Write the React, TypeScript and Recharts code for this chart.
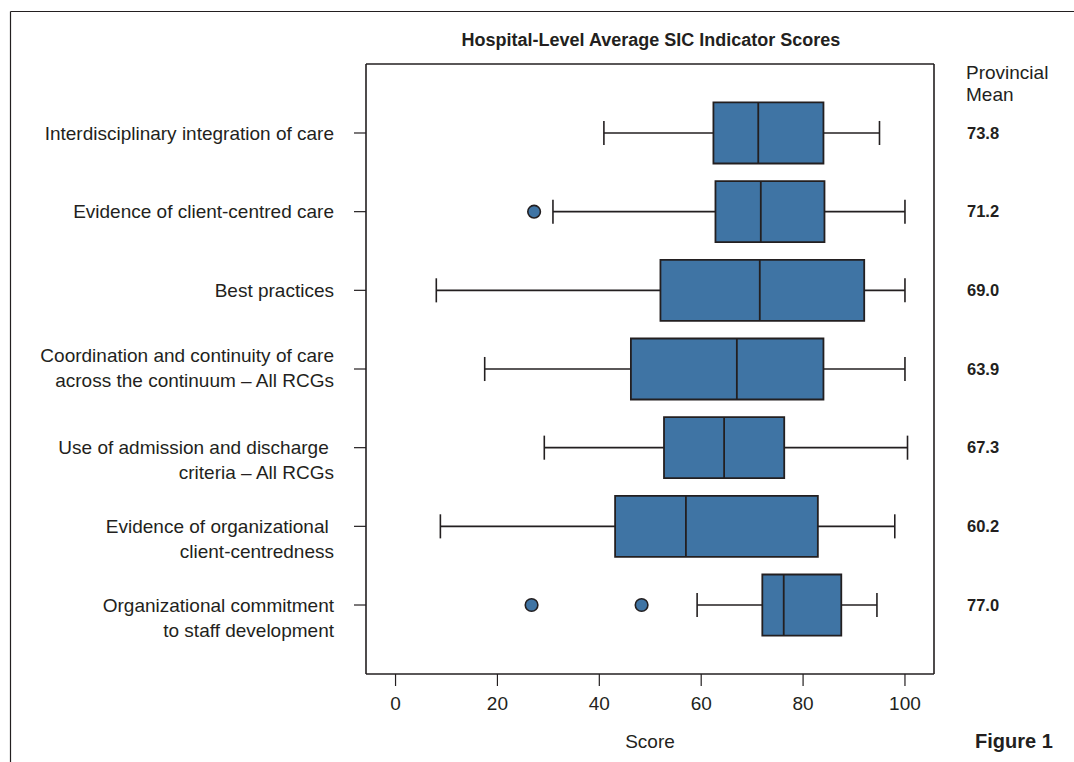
import React from "react";
import {
  ComposedChart,
  XAxis,
  YAxis,
  Scatter,
  ReferenceArea,
  ReferenceLine,
  Customized,
} from "recharts";

// Indicator names (one entry per line of the axis label)
const indicators: string[][] = [
  ["Interdisciplinary integration of care"],
  ["Evidence of client-centred care"],
  ["Best practices"],
  ["Coordination and continuity of care", "across the continuum – All RCGs"],
  ["Use of admission and discharge ", "criteria – All RCGs"],
  ["Evidence of organizational ", "client-centredness"],
  ["Organizational commitment", "to staff development"],
];

// Five-number summaries of hospital-level scores, per indicator
const whiskerLow = [40.9, 30.9, 8.0, 17.5, 29.2, 8.8, 59.2];
const quartile1 = [62.4, 62.8, 52.0, 46.2, 52.7, 43.1, 72.0];
const medians = [71.2, 71.7, 71.5, 67.0, 64.5, 57.0, 76.2];
const quartile3 = [84.0, 84.2, 92.0, 84.0, 76.3, 82.9, 87.5];
const whiskerHigh = [95.0, 100.0, 100.0, 100.0, 100.5, 98.0, 94.5];

// Outlying hospitals: indicator row (1-based) and score
const outlierRows = [2, 7, 7];
const outlierScores = [27.2, 26.7, 48.3];

// Provincial mean per indicator
const provincialMeans = [73.8, 71.2, 69.0, 63.9, 67.3, 60.2, 77.0];

const scoreTicks = [0, 20, 40, 60, 80, 100];

const rows = indicators.map((_, i) => i + 1);
const outliers = outlierRows.map((row, i) => ({ row, score: outlierScores[i] }));

const INK = "#231f20";
const BOX_FILL = "#3f74a4";
const FONT = "'Liberation Sans', Arial, Helvetica, sans-serif";

const BOX_HALF = 0.388;
const CAP_HALF = 0.153;
const X_DOMAIN: [number, number] = [-5.8, 105.7];
const Y_DOMAIN: [number, number] = [0.123, 7.877];

// rows whose two-line label is centred on the tick rather than hung from it
const centredLabelRows = new Set([4]);

const IndicatorTick = (props: any) => {
  const { x, y, payload } = props;
  const row = payload.value as number;
  const lines = indicators[row - 1] || [];
  const lineGap = 25;
  const firstY = centredLabelRows.has(row) ? y - 14 : y;
  return (
    <text x={x} y={firstY} textAnchor="end" fontFamily={FONT} fontSize={19} fill={INK}>
      {lines.map((line, i) => (
        <tspan key={i} x={x} y={firstY + i * lineGap} dy="0.35em">
          {line}
        </tspan>
      ))}
    </text>
  );
};

const MeanTick = (props: any) => {
  const { x, y, payload } = props;
  const row = payload.value as number;
  const v = provincialMeans[row - 1];
  return (
    <text
      x={x}
      y={y}
      dy="0.35em"
      textAnchor="start"
      fontFamily={FONT}
      fontWeight="bold"
      fontSize={16.5}
      fill={INK}
    >
      {v.toFixed(1)}
    </text>
  );
};

const OutlierDot = (props: any) => {
  const { cx, cy } = props;
  return <circle cx={cx} cy={cy} r={6.3} fill={BOX_FILL} stroke={INK} strokeWidth={1.6} />;
};

const Decorations = () => (
  <g>
    <line x1={10.5} y1={11.5} x2={1074} y2={11.5} stroke={INK} strokeWidth={1.2} />
    <line x1={10.5} y1={11.5} x2={10.5} y2={762} stroke={INK} strokeWidth={1.2} />
    <text
      x={651}
      y={46}
      textAnchor="middle"
      fontFamily={FONT}
      fontWeight="bold"
      fontSize={18}
      fill={INK}
    >
      Hospital-Level Average SIC Indicator Scores
    </text>
    <text x={966} y={79} fontFamily={FONT} fontSize={19} fill={INK}>
      Provincial
    </text>
    <text x={966} y={101} fontFamily={FONT} fontSize={19} fill={INK}>
      Mean
    </text>
    <text x={650} y={748} textAnchor="middle" fontFamily={FONT} fontSize={19} fill={INK}>
      Score
    </text>
    <text x={975} y={748} fontFamily={FONT} fontWeight="bold" fontSize={20} fill={INK}>
      Figure 1
    </text>
  </g>
);

export default function App() {
  return (
    <div style={{ position: "absolute", left: 0, top: 0, width: 1074, height: 762, background: "#fff" }}>
      <ComposedChart
        width={1074}
        height={762}
        margin={{ top: 64, right: 0, bottom: 0, left: 0 }}
      >
        <XAxis
          type="number"
          dataKey="score"
          domain={X_DOMAIN}
          ticks={scoreTicks}
          allowDataOverflow
          height={88}
          tickSize={12}
          tickMargin={11}
          stroke={INK}
          axisLine={{ stroke: INK, strokeWidth: 1.6 }}
          tickLine={{ stroke: INK, strokeWidth: 1.2 }}
          tick={{ fontFamily: FONT, fontSize: 19, fill: INK }}
        />
        <YAxis
          yAxisId="rows"
          type="number"
          dataKey="row"
          domain={Y_DOMAIN}
          ticks={rows}
          reversed
          allowDataOverflow
          width={366}
          tickSize={12}
          tickMargin={20}
          axisLine={{ stroke: INK, strokeWidth: 1.6 }}
          tickLine={{ stroke: INK, strokeWidth: 1.2 }}
          tick={<IndicatorTick />}
        />
        <YAxis
          yAxisId="mean"
          orientation="right"
          type="number"
          domain={Y_DOMAIN}
          ticks={rows}
          reversed
          allowDataOverflow
          width={140}
          tickSize={0}
          tickMargin={33}
          axisLine={{ stroke: INK, strokeWidth: 1.6 }}
          tickLine={false}
          tick={<MeanTick />}
        />

        {/* top edge of the plotting frame */}
        <ReferenceLine
          yAxisId="rows"
          segment={[
            { x: X_DOMAIN[0], y: Y_DOMAIN[0] },
            { x: X_DOMAIN[1], y: Y_DOMAIN[0] },
          ]}
          stroke={INK}
          strokeWidth={1.6}
        />

        {/* whiskers and caps */}
        {rows.map((row, i) => (
          <ReferenceLine
            key={`wl-${row}`}
            yAxisId="rows"
            segment={[
              { x: whiskerLow[i], y: row },
              { x: quartile1[i], y: row },
            ]}
            stroke={INK}
            strokeWidth={1.6}
          />
        ))}
        {rows.map((row, i) => (
          <ReferenceLine
            key={`wh-${row}`}
            yAxisId="rows"
            segment={[
              { x: quartile3[i], y: row },
              { x: whiskerHigh[i], y: row },
            ]}
            stroke={INK}
            strokeWidth={1.6}
          />
        ))}
        {rows.map((row, i) => (
          <ReferenceLine
            key={`cl-${row}`}
            yAxisId="rows"
            segment={[
              { x: whiskerLow[i], y: row - CAP_HALF },
              { x: whiskerLow[i], y: row + CAP_HALF },
            ]}
            stroke={INK}
            strokeWidth={1.6}
          />
        ))}
        {rows.map((row, i) => (
          <ReferenceLine
            key={`ch-${row}`}
            yAxisId="rows"
            segment={[
              { x: whiskerHigh[i], y: row - CAP_HALF },
              { x: whiskerHigh[i], y: row + CAP_HALF },
            ]}
            stroke={INK}
            strokeWidth={1.6}
          />
        ))}

        {/* interquartile boxes */}
        {rows.map((row, i) => (
          <ReferenceArea
            key={`box-${row}`}
            yAxisId="rows"
            x1={quartile1[i]}
            x2={quartile3[i]}
            y1={row - BOX_HALF}
            y2={row + BOX_HALF}
            fill={BOX_FILL}
            fillOpacity={1}
            stroke={INK}
            strokeWidth={1.8}
          />
        ))}

        {/* medians */}
        {rows.map((row, i) => (
          <ReferenceLine
            key={`med-${row}`}
            yAxisId="rows"
            segment={[
              { x: medians[i], y: row - BOX_HALF },
              { x: medians[i], y: row + BOX_HALF },
            ]}
            stroke={INK}
            strokeWidth={1.8}
          />
        ))}

        <Scatter
          yAxisId="rows"
          data={outliers}
          dataKey="row"
          shape={<OutlierDot />}
          isAnimationActive={false}
        />

        <Customized component={<Decorations />} />
      </ComposedChart>
    </div>
  );
}
